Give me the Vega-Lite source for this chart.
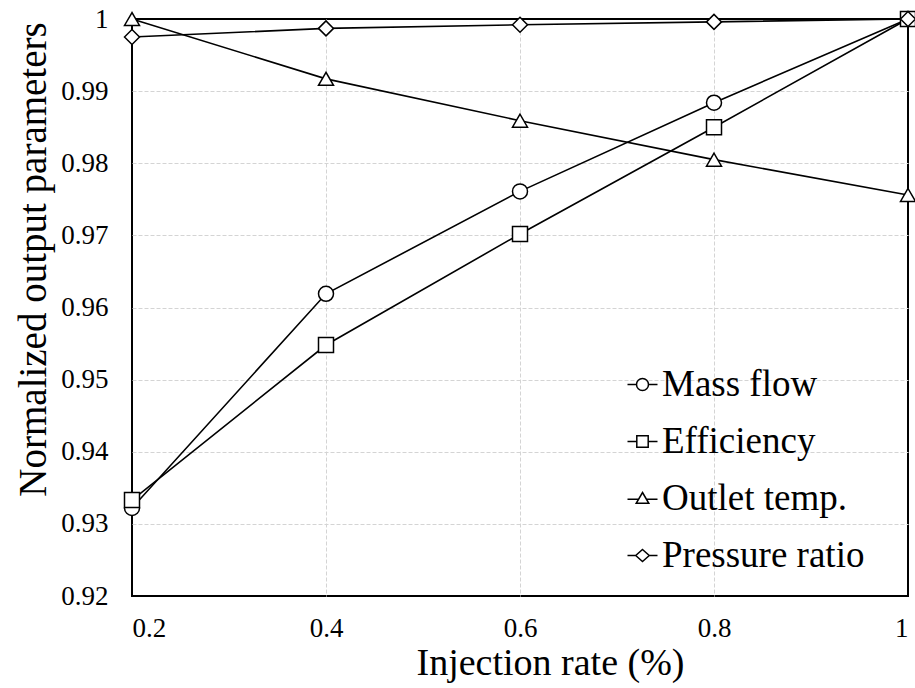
{
  "$schema": "https://vega.github.io/schema/vega-lite/v6.json",
  "width": 776,
  "height": 577,
  "autosize": {"type": "none"},
  "padding": {"left": 132, "top": 19, "right": 7, "bottom": 92},
  "background": "white",
  "config": {
    "font": "'Liberation Serif', 'Times New Roman', Times, 'DejaVu Serif', serif",
    "view": {"stroke": "black", "strokeWidth": 2},
    "axis": {
      "domain": false,
      "ticks": false,
      "labelFont": "'Liberation Serif', 'Times New Roman', Times, 'DejaVu Serif', serif",
      "labelFontSize": 27,
      "labelColor": "black",
      "titleFont": "'Liberation Serif', 'Times New Roman', Times, 'DejaVu Serif', serif",
      "titleFontSize": 38,
      "titleFontWeight": "normal",
      "titleColor": "black",
      "gridColor": "#d4d4d4",
      "gridDash": [4, 2],
      "gridWidth": 1
    },
    "legend": {
      "labelFont": "'Liberation Serif', 'Times New Roman', Times, 'DejaVu Serif', serif"
    }
  },
  "data": {
    "values": [
      {"rate": 0.2, "series": "Mass flow", "value": 0.9322},
      {"rate": 0.4, "series": "Mass flow", "value": 0.9619},
      {"rate": 0.6, "series": "Mass flow", "value": 0.9761},
      {"rate": 0.8, "series": "Mass flow", "value": 0.9884},
      {"rate": 1.0, "series": "Mass flow", "value": 1.0},
      {"rate": 0.2, "series": "Efficiency", "value": 0.9333},
      {"rate": 0.4, "series": "Efficiency", "value": 0.9548},
      {"rate": 0.6, "series": "Efficiency", "value": 0.9702},
      {"rate": 0.8, "series": "Efficiency", "value": 0.985},
      {"rate": 1.0, "series": "Efficiency", "value": 1.0},
      {"rate": 0.2, "series": "Outlet temp.", "value": 1.0},
      {"rate": 0.4, "series": "Outlet temp.", "value": 0.9917},
      {"rate": 0.6, "series": "Outlet temp.", "value": 0.9859},
      {"rate": 0.8, "series": "Outlet temp.", "value": 0.9805},
      {"rate": 1.0, "series": "Outlet temp.", "value": 0.9756},
      {"rate": 0.2, "series": "Pressure ratio", "value": 0.9975},
      {"rate": 0.4, "series": "Pressure ratio", "value": 0.9987},
      {"rate": 0.6, "series": "Pressure ratio", "value": 0.9992},
      {"rate": 0.8, "series": "Pressure ratio", "value": 0.9996},
      {"rate": 1.0, "series": "Pressure ratio", "value": 1.0}
    ]
  },
  "encoding": {
    "x": {
      "field": "rate",
      "type": "quantitative",
      "scale": {"domain": [0.2, 1], "nice": false, "zero": false},
      "axis": {
        "title": "Injection rate (%)",
        "values": [0.2, 0.4, 0.6, 0.8, 1],
        "format": ".1~f",
        "labelPadding": 19,
        "titleX": 418,
        "titleY": 67,
        "titleBaseline": "middle",
        "gridOpacity": {"condition": {"test": "datum.value <= 0.2 || datum.value >= 1", "value": 0}, "value": 1}
      }
    },
    "y": {
      "field": "value",
      "type": "quantitative",
      "scale": {"domain": [0.92, 1], "nice": false, "zero": false},
      "axis": {
        "title": "Normalized output parameters",
        "values": [0.92, 0.93, 0.94, 0.95, 0.96, 0.97, 0.98, 0.99, 1],
        "format": ".2~f",
        "labelPadding": 24,
        "titleX": -99,
        "titleY": 240,
        "titleBaseline": "middle",
        "titleFontSize": 39,
        "gridOpacity": {"condition": {"test": "datum.value <= 0.92 || datum.value >= 1", "value": 0}, "value": 1}
      }
    }
  },
  "layer": [
    {
      "mark": {"type": "line", "color": "black", "strokeWidth": 1.6},
      "encoding": {"detail": {"field": "series"}}
    },
    {
      "mark": {"type": "point", "filled": true, "fill": "white", "stroke": "black", "strokeWidth": 1.5, "size": 225, "opacity": 1},
      "encoding": {
        "shape": {
          "field": "series",
          "type": "nominal",
          "scale": {
            "domain": ["Mass flow", "Efficiency", "Outlet temp.", "Pressure ratio"],
            "range": ["circle", "square", "triangle-up", "diamond"]
          },
          "legend": null
        }
      }
    },
    {
      "transform": [{"filter": {"field": "value", "gt": 2}}],
      "mark": {"type": "point", "filled": true, "fill": "white", "stroke": "black", "strokeWidth": 1.5, "size": 900, "opacity": 1},
      "encoding": {
        "shape": {
          "field": "series",
          "type": "nominal",
          "scale": {
            "domain": ["Mass flow", "Efficiency", "Outlet temp.", "Pressure ratio"],
            "range": [
              "M-1,0H-0.4M0.4,0H1M0.4,0A0.4,0.4 0 1,1 -0.4,0A0.4,0.4 0 1,1 0.4,0Z",
              "M-1,0H-0.38M0.38,0H1M-0.38,-0.38H0.38V0.38H-0.38Z",
              "M-1,0.05H-0.25M0.25,0.05H1M0,-0.4L0.42,0.32H-0.42Z",
              "M-1,0H-0.45M0.45,0H1M0,-0.4L0.45,0L0,0.4L-0.45,0Z"
            ]
          },
          "legend": {
            "title": null,
            "orient": "none",
            "legendX": 492,
            "legendY": 347,
            "padding": 0,
            "symbolSize": 900,
            "labelFontSize": 37,
            "labelColor": "black",
            "labelOffset": 1,
            "labelLimit": 400,
            "rowPadding": 19,
            "encode": {
              "symbols": {
                "update": {
                  "stroke": {"value": "black"},
                  "fill": {"value": "white"},
                  "strokeWidth": {"value": 1.5},
                  "opacity": {"value": 1},
                  "fillOpacity": {"value": 1},
                  "strokeOpacity": {"value": 1}
                }
              }
            }
          }
        }
      }
    }
  ],
  "resolve": {"scale": {"shape": "independent"}, "legend": {"shape": "independent"}}
}
